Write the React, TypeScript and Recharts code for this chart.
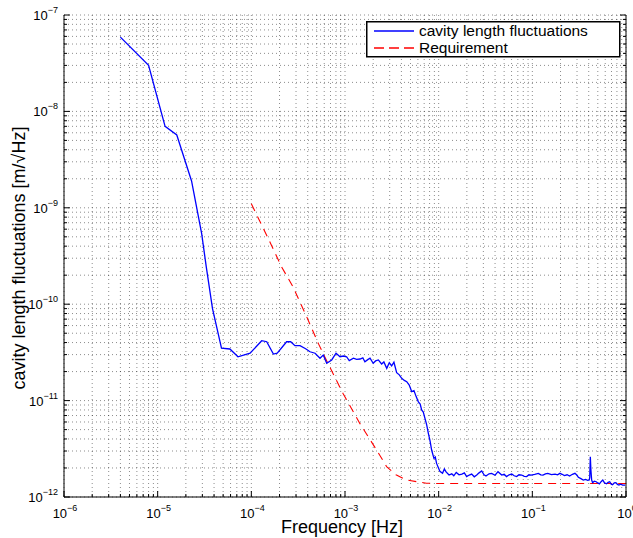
import React from 'react';
import { LineChart, Line, XAxis, YAxis, CartesianGrid } from 'recharts';

// Measured cavity length fluctuations [m/sqrt(Hz)] vs frequency [Hz]
const fluctFreq = [
  4.0e-6, 8.0e-6, 1.2e-5, 1.6e-5, 2.3e-5, 2.95e-5, 3.3e-5, 3.85e-5, 4.8e-5, 5.9e-5,
  7.2e-5, 9.7e-5, 1.29e-4, 1.46e-4, 1.72e-4, 1.89e-4, 2.38e-4, 2.63e-4, 2.92e-4, 3.31e-4,
  3.8e-4, 4.23e-4, 4.79e-4, 5.41e-4, 5.86e-4, 6.38e-4, 7.21e-4, 8.02e-4, 8.85e-4, 9.6e-4,
  1.04e-3, 1.11e-3, 1.23e-3, 1.33e-3, 1.45e-3, 1.55e-3, 1.63e-3, 1.75e-3, 1.85e-3, 2.0e-3,
  2.12e-3, 2.27e-3, 2.46e-3, 2.6e-3, 2.79e-3, 2.97e-3, 3.15e-3, 3.33e-3, 3.56e-3, 3.8e-3,
  4.03e-3, 4.3e-3, 4.56e-3, 4.85e-3, 5.15e-3, 5.45e-3, 5.75e-3, 6.07e-3, 6.35e-3, 6.58e-3,
  6.85e-3, 7.14e-3, 7.45e-3, 7.75e-3, 8.1e-3, 8.41e-3, 8.9e-3, 9.2e-3, 9.5e-3, 1.03e-2,
  1.1e-2, 1.15e-2, 1.2e-2, 1.29e-2, 1.38e-2, 1.45e-2, 1.54e-2, 1.65e-2, 1.77e-2, 1.88e-2,
  1.99e-2, 2.12e-2, 2.25e-2, 2.4e-2, 2.55e-2, 2.7e-2, 2.88e-2, 3.05e-2, 3.2e-2, 3.45e-2,
  3.68e-2, 4.0e-2, 4.3e-2, 4.71e-2, 5.0e-2, 5.3e-2, 5.65e-2, 6.03e-2, 6.4e-2, 6.8e-2,
  7.2e-2, 7.7e-2, 8.2e-2, 8.7e-2, 9.2e-2, 9.7e-2, 0.106, 0.116, 0.123, 0.13,
  0.138, 0.146, 0.16, 0.175, 0.186, 0.197, 0.208, 0.22, 0.235, 0.25,
  0.268, 0.285, 0.3, 0.31, 0.33, 0.35, 0.37, 0.39, 0.405, 0.41,
  0.416, 0.422, 0.43, 0.44, 0.46, 0.48, 0.5, 0.52, 0.545, 0.565,
  0.59, 0.62, 0.645, 0.67, 0.695, 0.72, 0.75, 0.78, 0.81, 0.84,
  0.88, 0.92, 0.98,
];
const fluctAmp = [
  5.9e-8, 3.0e-8, 7.0e-9, 5.7e-9, 1.9e-9, 5.4e-10, 2.45e-10, 9.0e-11, 3.5e-11, 3.43e-11,
  2.85e-11, 3.1e-11, 4.18e-11, 4.08e-11, 3.04e-11, 3.1e-11, 4.08e-11, 4.08e-11, 3.71e-11, 3.71e-11,
  3.45e-11, 3.21e-11, 3.1e-11, 2.75e-11, 2.97e-11, 2.44e-11, 2.64e-11, 3.1e-11, 2.85e-11, 2.9e-11,
  2.85e-11, 2.6e-11, 2.75e-11, 2.68e-11, 2.7e-11, 2.78e-11, 2.53e-11, 2.66e-11, 2.75e-11, 2.44e-11,
  2.58e-11, 2.64e-11, 2.4e-11, 2.52e-11, 2.16e-11, 2.47e-11, 2.29e-11, 2.5e-11, 1.95e-11, 1.85e-11,
  1.7e-11, 1.62e-11, 1.57e-11, 1.45e-11, 1.24e-11, 1.27e-11, 1.1e-11, 9.7e-12, 9.2e-12, 8.0e-12,
  7.6e-12, 6.55e-12, 5.6e-12, 4.6e-12, 3.8e-12, 3.07e-12, 2.52e-12, 2.6e-12, 2.23e-12, 1.85e-12,
  1.76e-12, 1.95e-12, 1.82e-12, 1.69e-12, 1.74e-12, 1.66e-12, 1.8e-12, 1.7e-12, 1.73e-12, 1.78e-12,
  1.63e-12, 1.69e-12, 1.73e-12, 1.62e-12, 1.69e-12, 1.78e-12, 1.86e-12, 1.7e-12, 1.65e-12, 1.74e-12,
  1.76e-12, 1.68e-12, 1.83e-12, 1.69e-12, 1.72e-12, 1.63e-12, 1.7e-12, 1.73e-12, 1.66e-12, 1.63e-12,
  1.7e-12, 1.69e-12, 1.64e-12, 1.63e-12, 1.7e-12, 1.69e-12, 1.72e-12, 1.76e-12, 1.7e-12, 1.69e-12,
  1.74e-12, 1.76e-12, 1.71e-12, 1.73e-12, 1.7e-12, 1.76e-12, 1.72e-12, 1.67e-12, 1.7e-12, 1.65e-12,
  1.72e-12, 1.76e-12, 1.68e-12, 1.6e-12, 1.55e-12, 1.5e-12, 1.52e-12, 1.49e-12, 1.5e-12, 1.6e-12,
  2.62e-12, 1.9e-12, 1.5e-12, 1.41e-12, 1.46e-12, 1.44e-12, 1.4e-12, 1.37e-12, 1.45e-12, 1.5e-12,
  1.4e-12, 1.37e-12, 1.42e-12, 1.44e-12, 1.36e-12, 1.34e-12, 1.4e-12, 1.41e-12, 1.35e-12, 1.33e-12,
  1.36e-12, 1.33e-12, 1.33e-12,
];

// Requirement curve
const reqFreq = [1.0e-4, 1.5e-4, 2.1e-4, 2.8e-4, 3.9e-4, 5.2e-4, 6.3e-4, 9.5e-4, 1.44e-3, 2.17e-3, 2.78e-3, 3.5e-3, 4.54e-3, 7.4e-3, 1.0e-2, 1.0];
const reqAmp = [1.1e-9, 4.9e-10, 2.45e-10, 1.5e-10, 7.4e-11, 3.9e-11, 2.65e-11, 1.19e-11, 5.8e-12, 3.08e-12, 2.07e-12, 1.7e-12, 1.5e-12, 1.39e-12, 1.38e-12, 1.38e-12];

// Axis decades (exponents) and minor multipliers
const xDecades = [-6, -5, -4, -3, -2, -1, 0];
const yDecades = [-12, -11, -10, -9, -8, -7];
const minorMult = [2, 3, 4, 5, 6, 7, 8, 9];

const seriesNames = ['cavity length fluctuations', 'Requirement'];
const xTitle = 'Frequency [Hz]';
const yTitle = 'cavity length fluctuations [m/\u221AHz]';

const buildTicks = (decades: number[]) => {
  const t: number[] = [];
  decades.forEach((d, i) => {
    t.push(Math.pow(10, d));
    if (i < decades.length - 1) minorMult.forEach((m) => t.push(m * Math.pow(10, d)));
  });
  return t;
};
const xTicks = buildTicks(xDecades);
const yTicks = buildTicks(yDecades);

const fluctData = fluctFreq.map((f, i) => ({ f, v: fluctAmp[i] }));
const reqData = reqFreq.map((f, i) => ({ f, v: reqAmp[i] }));

const FONT = '"Liberation Sans", Arial, Helvetica, sans-serif';

const isMajor = (v: number) => {
  const l = Math.log10(v);
  return Math.abs(l - Math.round(l)) < 1e-6;
};
const expStr = (v: number) => {
  const e = Math.round(Math.log10(v));
  return e < 0 ? '\u2212' + String(-e) : String(e);
};

const MAJ = 6;
const MIN = 3;

const BottomTick = (props: any) => {
  const { x, y, payload } = props;
  const v = payload.value;
  const major = isMajor(v);
  return (
    <g>
      <line x1={x} x2={x} y1={y} y2={y - (major ? MAJ : MIN)} stroke="#000" strokeWidth={1} />
      {major && (
        <text x={x + 1} y={y + 21} textAnchor="middle" fontFamily={FONT} fontSize={13} fill="#000">
          <tspan>10</tspan>
          <tspan dy={-7} fontSize={9}>{expStr(v)}</tspan>
        </text>
      )}
    </g>
  );
};
const TopTick = (props: any) => {
  const { x, y, payload } = props;
  const major = isMajor(payload.value);
  return <line x1={x} x2={x} y1={y} y2={y + (major ? MAJ : MIN)} stroke="#000" strokeWidth={1} />;
};
const LeftTick = (props: any) => {
  const { x, y, payload } = props;
  const v = payload.value;
  const major = isMajor(v);
  return (
    <g>
      <line x1={x} x2={x + (major ? MAJ : MIN)} y1={y} y2={y} stroke="#000" strokeWidth={1} />
      {major && (
        <text x={x - 6} y={y + 5} textAnchor="end" fontFamily={FONT} fontSize={13} fill="#000">
          <tspan>10</tspan>
          <tspan dy={-7} fontSize={9}>{expStr(v)}</tspan>
        </text>
      )}
    </g>
  );
};
const RightTick = (props: any) => {
  const { x, y, payload } = props;
  const major = isMajor(payload.value);
  return <line x1={x} x2={x - (major ? MAJ : MIN)} y1={y} y2={y} stroke="#000" strokeWidth={1} />;
};

const XTitle = (props: any) => {
  const vb = props.viewBox || {};
  return (
    <text x={vb.x + vb.width / 2 - 3} y={vb.y + 36} textAnchor="middle" fontFamily={FONT} fontSize={18} fill="#000">
      {xTitle}
    </text>
  );
};
const YTitle = (props: any) => {
  const vb = props.viewBox || {};
  const cx = 25;
  const cy = vb.y + vb.height / 2 + 2;
  return (
    <text transform={`translate(${cx}, ${cy}) rotate(-90)`} textAnchor="middle" fontFamily={FONT} fontSize={18} fill="#000">
      {yTitle}
    </text>
  );
};

const LegendBox = () => (
  <svg width={256} height={38} style={{ display: 'block' }}>
    <rect x={0.75} y={0.75} width={253} height={35} fill="#fff" stroke="#000" strokeWidth={1.5} />
    <line x1={8} x2={48} y1={10} y2={10} stroke="#0000ff" strokeWidth={1.3} />
    <text x={53} y={15} fontFamily={FONT} fontSize={15.5} fill="#000">{seriesNames[0]}</text>
    <line x1={8} x2={48} y1={27} y2={27} stroke="#ff0000" strokeWidth={1.3} strokeDasharray="10 5" />
    <text x={53} y={32} fontFamily={FONT} fontSize={15.5} fill="#000">{seriesNames[1]}</text>
  </svg>
);

export default function App() {
  return (
    <div style={{ position: 'absolute', left: 0, top: 0, width: 633, height: 538, background: '#fff' }}>
      <LineChart width={633} height={538} margin={{ top: 15, right: 0, bottom: 0, left: 0 }}>
        <CartesianGrid stroke="#000" strokeOpacity={0.45} strokeDasharray="1 3" />
        <XAxis
          xAxisId={0}
          dataKey="f"
          type="number"
          scale="log"
          domain={[1e-6, 1]}
          allowDataOverflow
          ticks={xTicks}
          interval={0}
          height={41}
          tickSize={0}
          tickMargin={0}
          tickLine={false}
          tick={<BottomTick />}
          axisLine={{ stroke: '#000' }}
          label={<XTitle />}
        />
        <XAxis
          xAxisId="top"
          orientation="top"
          type="number"
          scale="log"
          domain={[1e-6, 1]}
          allowDataOverflow
          ticks={xTicks}
          interval={0}
          height={0}
          tickSize={0}
          tickMargin={0}
          tickLine={false}
          tick={<TopTick />}
          axisLine={{ stroke: '#000' }}
        />
        <YAxis
          yAxisId={0}
          type="number"
          scale="log"
          domain={[1e-12, 1e-7]}
          allowDataOverflow
          ticks={yTicks}
          interval={0}
          width={64}
          tickSize={0}
          tickMargin={0}
          tickLine={false}
          tick={<LeftTick />}
          axisLine={{ stroke: '#000' }}
          label={<YTitle />}
        />
        <YAxis
          yAxisId="right"
          orientation="right"
          type="number"
          scale="log"
          domain={[1e-12, 1e-7]}
          allowDataOverflow
          ticks={yTicks}
          interval={0}
          width={7}
          tickSize={0}
          tickMargin={0}
          tickLine={false}
          tick={<RightTick />}
          axisLine={{ stroke: '#000' }}
        />
        <Line
          data={reqData}
          dataKey="v"
          name={seriesNames[1]}
          stroke="#ff0000"
          strokeWidth={1.1}
          strokeDasharray="8 6"
          dot={false}
          activeDot={false}
          isAnimationActive={false}
        />
        <Line
          data={fluctData}
          dataKey="v"
          name={seriesNames[0]}
          stroke="#0000ff"
          strokeWidth={1.3}
          dot={false}
          activeDot={false}
          isAnimationActive={false}
        />
      </LineChart>
      <div style={{ position: 'absolute', left: 366, top: 21 }}>
        <LegendBox />
      </div>
    </div>
  );
}
